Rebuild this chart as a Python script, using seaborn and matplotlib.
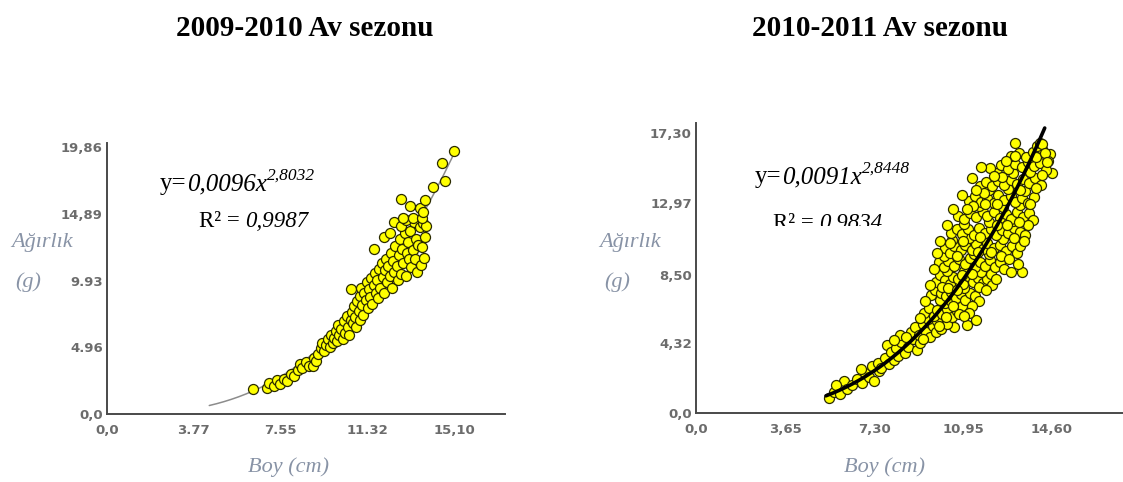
import numpy as np
import pandas as pd
import matplotlib
matplotlib.use("Agg")
import matplotlib.pyplot as plt
import seaborn as sns
from matplotlib.transforms import Bbox

W, H = 1123, 482

# ---- data -----------------------------------------------------------------
basliklar = ["2009-2010 Av sezonu", "2010-2011 Av sezonu"]

# power-law fits  W = a * L^b
katsayi_a = [0.0096, 0.0091]
katsayi_b = [2.8032, 2.8448]
a_metin = ["0,0096", "0,0091"]
b_metin = ["2,8032", "2,8448"]
r2_metin = ["0,9987", "0.9834"]

# length range covered by each fitted curve
egri_araligi = [(4.45, 15.1), (5.33, 14.3)]

x_ticks_0910 = [0, 3.77, 7.55, 11.32, 15.10]
x_labels_0910 = ["0,0", "3.77", "7.55", "11.32", "15,10"]
y_ticks_0910 = [0, 4.96, 9.93, 14.89, 19.86]
y_labels_0910 = ["0,0", "4.96", "9.93", "14,89", "19,86"]

x_ticks_1011 = [0, 3.65, 7.30, 10.95, 14.60]
x_labels_1011 = ["0,0", "3,65", "7,30", "10,95", "14,60"]
y_ticks_1011 = [0, 4.32, 8.50, 12.97, 17.30]
y_labels_1011 = ["0,0", "4,32", "8,50", "12,97", "17,30"]

# (boy cm, ağırlık g) — 2009-2010 season
olcum_0910 = [
    (6.36, 1.84), (6.95, 1.95), (7.05, 2.3), (7.25, 2.05), (7.4, 2.5), (7.55, 2.2),
    (7.7, 2.6), (7.85, 2.45), (8.0, 3.0), (8.15, 2.8), (8.3, 3.3), (8.4, 3.7),
    (8.5, 3.4), (8.65, 3.9), (8.8, 3.6), (8.95, 3.55), (9.0, 4.2), (9.1, 3.95),
    (9.2, 4.45), (9.3, 4.9), (9.35, 5.3), (9.45, 4.7), (9.55, 5.1), (9.6, 5.55),
    (9.7, 4.95), (9.75, 5.9), (9.85, 5.25), (9.9, 5.65), (9.95, 6.2), (10.0, 5.45),
    (10.05, 6.6), (10.1, 5.9), (10.2, 6.3), (10.25, 5.6), (10.3, 6.9), (10.35, 6.05),
    (10.45, 7.3), (10.5, 6.5), (10.55, 5.9), (10.6, 7.0), (10.63, 9.28), (10.65, 7.6),
    (10.7, 6.8), (10.75, 8.0), (10.8, 7.25), (10.85, 6.5), (10.9, 8.4), (10.95, 7.65),
    (11.0, 7.0), (11.0, 8.8), (11.05, 9.4), (11.1, 8.1), (11.15, 7.4), (11.2, 9.0),
    (11.25, 8.5), (11.3, 9.8), (11.35, 7.9), (11.4, 9.3), (11.45, 8.7), (11.5, 10.1),
    (11.55, 8.2), (11.6, 12.26), (11.6, 9.6), (11.65, 10.5), (11.7, 9.0), (11.75, 10.0),
    (11.8, 8.6), (11.85, 10.8), (11.9, 9.4), (11.95, 11.2), (12.0, 10.2), (12.05, 9.0),
    (12.1, 10.7), (12.15, 11.5), (12.2, 9.8), (12.25, 11.0), (12.3, 10.3), (12.35, 12.0),
    (12.4, 9.4), (12.45, 11.4), (12.5, 10.6), (12.55, 12.5), (12.6, 11.0), (12.65, 10.0),
    (12.7, 11.8), (12.75, 13.0), (12.8, 10.4), (12.85, 12.3), (12.9, 11.2), (12.95, 13.5),
    (13.0, 10.25), (13.05, 12.0), (13.1, 12.8), (13.15, 11.5), (13.2, 13.6), (13.25, 10.9),
    (13.3, 12.2), (13.35, 14.3), (13.4, 11.5), (13.45, 13.0), (13.5, 10.6), (13.55, 12.6),
    (13.6, 13.9), (13.65, 11.1), (13.7, 12.4), (13.75, 14.2), (13.8, 11.6), (13.85, 13.2),
    (13.9, 14.0), (12.05, 13.2), (12.5, 14.3), (12.8, 14.0), (13.0, 14.4), (12.3, 13.5),
    (12.9, 14.6), (13.3, 14.6), (13.7, 14.6), (12.8, 16.0), (13.2, 15.5), (13.6, 15.3),
    (13.85, 15.9), (13.75, 15.0), (14.2, 16.9), (14.7, 17.3), (14.6, 18.7), (15.1, 19.6),
]

# (boy cm, ağırlık g) — 2010-2011 season
olcum_1011 = [
    (5.45, 0.95), (5.65, 1.3), (5.9, 1.15), (6.05, 2.0), (5.75, 1.75), (6.2, 1.5),
    (6.4, 1.7), (6.6, 2.1), (6.8, 1.85), (6.95, 2.5), (7.1, 2.2), (7.3, 1.95),
    (7.5, 2.6), (6.75, 2.7), (7.2, 2.9),
    (7.45, 3.1), (7.6, 2.75), (7.75, 3.4), (7.9, 3.0), (8.1, 3.3), (8.3, 3.55),
    (7.85, 4.2), (8.0, 3.8),
    (8.2, 4.0), (8.4, 4.4), (8.55, 3.7), (8.7, 4.1), (8.9, 4.6), (9.05, 3.9),
    (8.35, 4.8), (9.2, 4.3), (8.8, 5.0),
    (9.0, 5.3), (9.15, 4.85), (9.3, 5.5), (9.45, 5.0), (9.6, 4.7), (9.7, 5.4),
    (9.85, 5.0), (9.5, 5.8), (9.9, 5.7), (10.05, 5.2), (11.1, 5.45), (11.5, 5.75),
    (10.6, 5.3), (10.3, 5.5),
    (9.35, 6.2), (9.55, 6.5), (9.75, 6.0), (9.9, 6.35), (10.1, 6.1), (10.3, 6.45),
    (10.5, 5.95), (10.7, 6.3), (10.9, 6.6), (10.2, 6.8), (10.0, 7.0), (10.45, 6.9),
    (10.8, 6.1),
    (9.65, 7.3), (9.8, 7.6), (10.05, 7.4), (10.25, 7.2), (10.45, 7.5), (10.65, 7.1),
    (10.85, 7.35), (11.05, 7.0), (11.25, 7.4), (11.45, 7.2), (10.6, 7.8), (11.0, 7.7),
    (11.6, 6.9), (11.3, 6.6),
    (9.85, 8.1), (10.0, 8.5), (10.2, 8.2), (10.4, 8.0), (10.55, 8.4), (10.75, 8.25),
    (10.95, 8.0), (11.15, 8.45), (11.35, 8.1), (11.55, 8.35), (11.75, 8.05), (11.95, 8.3),
    (12.15, 7.9), (10.3, 8.75), (11.0, 8.8), (11.7, 8.7), (12.1, 8.6),
    (9.95, 9.3), (10.15, 9.0), (10.35, 9.4), (10.6, 9.1), (10.8, 9.5), (11.05, 9.2),
    (11.25, 9.55), (11.45, 9.0), (11.65, 9.35), (11.85, 9.1), (12.05, 9.45), (12.25, 9.0),
    (12.45, 9.3), (12.65, 8.9), (13.36, 8.7), (10.15, 9.7), (11.4, 9.8), (12.0, 9.85),
    (10.2, 10.2), (10.4, 9.9), (10.6, 10.3), (10.85, 10.05), (11.05, 10.4), (11.3, 10.1),
    (11.5, 10.45), (11.75, 10.15), (11.95, 10.5), (12.2, 10.2), (12.45, 10.4), (12.7, 10.0),
    (12.95, 10.3), (13.15, 9.9), (13.3, 10.35), (10.5, 10.7), (11.2, 10.8), (12.6, 10.75),
    (10.45, 11.1), (10.7, 11.4), (10.9, 11.05), (11.15, 11.35), (11.4, 11.0), (11.6, 11.45),
    (11.85, 11.15), (12.1, 11.4), (12.3, 11.0), (12.55, 11.3), (12.8, 11.1), (13.05, 11.45),
    (13.3, 11.2), (13.5, 11.0), (11.0, 11.7), (12.0, 11.8), (13.0, 11.85),
    (10.75, 12.2), (11.0, 12.0), (11.25, 12.35), (11.5, 12.1), (11.75, 12.45), (11.95, 12.15),
    (12.2, 12.4), (12.45, 12.05), (12.7, 12.3), (12.9, 12.0), (13.15, 12.4), (13.4, 12.1),
    (13.65, 12.35), (13.8, 11.9), (11.6, 12.8), (12.6, 12.7), (13.3, 12.85),
    (11.2, 13.1), (11.45, 13.4), (11.7, 13.05), (11.95, 13.3), (12.2, 13.0), (12.4, 13.45),
    (12.65, 13.15), (12.9, 13.4), (13.1, 13.05), (13.35, 13.3), (13.6, 13.0), (13.85, 13.35),
    (12.0, 13.8), (12.8, 13.85), (13.5, 13.7),
    (11.65, 14.0), (11.9, 14.3), (12.15, 14.05), (12.4, 14.35), (12.65, 14.1), (12.9, 14.4),
    (13.15, 14.15), (13.4, 14.45), (13.65, 14.2), (13.9, 14.5), (14.15, 14.1), (12.34, 14.8),
    (13.0, 14.85), (13.7, 14.9),
    (12.05, 15.15), (12.5, 15.3), (12.8, 15.1), (13.1, 15.4), (13.35, 15.2), (13.6, 15.5),
    (13.85, 15.25), (14.1, 15.45), (14.6, 14.8), (14.35, 15.0),
    (12.9, 15.9), (13.25, 16.05), (13.55, 15.8), (13.8, 16.1), (14.5, 16.0), (14.2, 16.3),
    (13.09, 16.67), (14.0, 16.5), (14.1, 16.7), (14.2, 16.65),
    (9.2, 5.9), (9.4, 6.9), (9.6, 7.9), (9.75, 8.9), (9.9, 9.9), (10.0, 10.6),
    (10.3, 11.6), (10.55, 12.6), (10.9, 13.5), (11.3, 14.5), (11.7, 15.2),
    (10.1, 7.8), (10.35, 7.7), (10.7, 7.6), (10.9, 8.5), (11.3, 8.6), (11.6, 7.8),
    (11.9, 7.6), (11.2, 6.2), (11.0, 6.0), (10.55, 6.6), (10.25, 5.95), (9.95, 5.4),
    (9.3, 4.6), (8.6, 4.7), (8.1, 4.5), (12.3, 8.3), (12.5, 9.7), (12.85, 9.5),
    (12.9, 8.7), (13.2, 9.2), (13.05, 10.8), (13.45, 10.6), (13.6, 11.6), (13.7, 12.9),
    (13.95, 13.9), (14.2, 14.7), (14.45, 15.6), (11.35, 12.8), (11.85, 12.9), (12.35, 12.9),
    (11.1, 12.6), (10.95, 10.6), (11.65, 10.9), (12.35, 11.6), (12.75, 11.6), (13.25, 11.8),
    (12.1, 9.95), (11.55, 9.95), (10.7, 9.7), (10.4, 10.5), (11.8, 13.6), (12.55, 14.6),
    (13.3, 13.8), (13.1, 15.9), (12.7, 15.6), (13.95, 15.8), (14.3, 16.05), (14.4, 15.5),
    (12.2, 14.65), (11.5, 13.8),
]

# ---- figure ---------------------------------------------------------------
sns.set_style("white")
plt.rcParams["font.family"] = ["DejaVu Sans"]

fig = plt.figure(figsize=(W / 100, H / 100), dpi=100)
fig.patch.set_facecolor("white")
renderer = fig.canvas.get_renderer()

AXIS_C = "#4a4a4a"
TICK_C = "#6c6c6c"
LABEL_C = "#8893a6"
SERIF = "Liberation Serif"


def px_axes(x0, y_top, x1, y_bot):
    """Axes rectangle given in pixel coordinates measured from the top-left."""
    return fig.add_axes([x0 / W, 1 - y_bot / H, (x1 - x0) / W, (y_bot - y_top) / H])


def rich_text(x_px, y_px, runs, clip_top=None):
    """Write consecutive runs of text on one baseline (pixel coords from top-left)."""
    x = x_px
    for s, style, size, rise in runs:
        t = fig.text(x / W, 1 - (y_px - rise) / H, s, fontsize=size, fontstyle=style,
                     family=SERIF, color="black", ha="left", va="baseline")
        if clip_top is not None:
            # keep only what lies above the given pixel row
            t.set_clip_box(Bbox.from_extents(0, H - clip_top, W, H))
            t.set_clip_on(True)
        x += t.get_window_extent(renderer).width


def draw_panel(ax, olcum, a, b, rng, line_c, line_w, line_z, xlim, ylim, xt, xl, yt, yl):
    boy, agirlik = zip(*olcum)
    df = pd.DataFrame({"Boy": boy, "Agirlik": agirlik})
    sns.scatterplot(data=df, x="Boy", y="Agirlik", ax=ax, s=52, color="#ffff00",
                    edgecolor="#2a2a00", linewidth=0.9, zorder=3, legend=False)
    xs = np.linspace(rng[0], rng[1], 200)
    sns.lineplot(x=xs, y=a * xs ** b, ax=ax, color=line_c, linewidth=line_w, zorder=line_z)
    ax.set_xlim(*xlim)
    ax.set_ylim(*ylim)
    ax.set_xticks(xt)
    ax.set_xticklabels(xl)
    ax.set_yticks(yt)
    ax.set_yticklabels(yl)
    ax.set_xlabel("")
    ax.set_ylabel("")
    for side in ("top", "right"):
        ax.spines[side].set_visible(False)
    for side in ("left", "bottom"):
        ax.spines[side].set_color(AXIS_C)
        ax.spines[side].set_linewidth(1.4)
    ax.tick_params(direction="in", length=7, width=1.2, color=AXIS_C, labelcolor=TICK_C,
                   labelsize=9.5)
    ax.tick_params(axis="x", pad=7)
    ax.tick_params(axis="y", pad=3)
    for lab in ax.get_xticklabels() + ax.get_yticklabels():
        lab.set_fontweight("bold")
    ax.set_facecolor("none")


# left panel
ax1 = px_axes(107, 143, 505, 414)
draw_panel(ax1, olcum_0910, katsayi_a[0], katsayi_b[0], egri_araligi[0], "#8c8c8c", 1.1, 2,
           (0, 17.32), (0, 20.16), x_ticks_0910, x_labels_0910, y_ticks_0910, y_labels_0910)

# right panel
ax2 = px_axes(696, 123, 1123, 413)
draw_panel(ax2, olcum_1011, katsayi_a[1], katsayi_b[1], egri_araligi[1], "#000000", 2.6, 4,
           (0, 17.51), (0, 17.92), x_ticks_1011, x_labels_1011, y_ticks_1011, y_labels_1011)

# titles
for cx, title in zip((305, 880), basliklar):
    fig.text(cx / W, 1 - 28 / H, title, fontsize=21, fontweight="bold", family=SERIF,
             ha="center", va="center", color="black")

# axis names
for x_a, x_g, x_boy in ((42, 28, 289), (630, 617, 885)):
    fig.text(x_a / W, 1 - 243 / H, "Ağırlık", fontsize=16, fontstyle="italic", family=SERIF,
             color=LABEL_C, ha="center", va="center")
    fig.text(x_g / W, 1 - 282 / H, "(g)", fontsize=16, fontstyle="italic", family=SERIF,
             color=LABEL_C, ha="center", va="center")
    fig.text(x_boy / W, 1 - 467 / H, "Boy (cm)", fontsize=16, fontstyle="italic", family=SERIF,
             color=LABEL_C, ha="center", va="center")

# fitted equations
rich_text(160, 190, [("y=", "normal", 18, 0), (a_metin[0] + "x", "italic", 18, 0),
                     (b_metin[0], "italic", 12.5, 10)])
rich_text(199, 227, [("R² = ", "normal", 16.5, 0), (r2_metin[0], "italic", 16.5, 0)])
rich_text(755, 183, [("y=", "normal", 18, 0), (a_metin[1] + "x", "italic", 18, 0),
                     (b_metin[1], "italic", 12.5, 10)])
rich_text(773, 229, [("R² = ", "normal", 16.5, 0), (r2_metin[1], "italic", 16.5, 0)],
          clip_top=226)

fig.savefig("out.png", dpi=100, facecolor="white")
